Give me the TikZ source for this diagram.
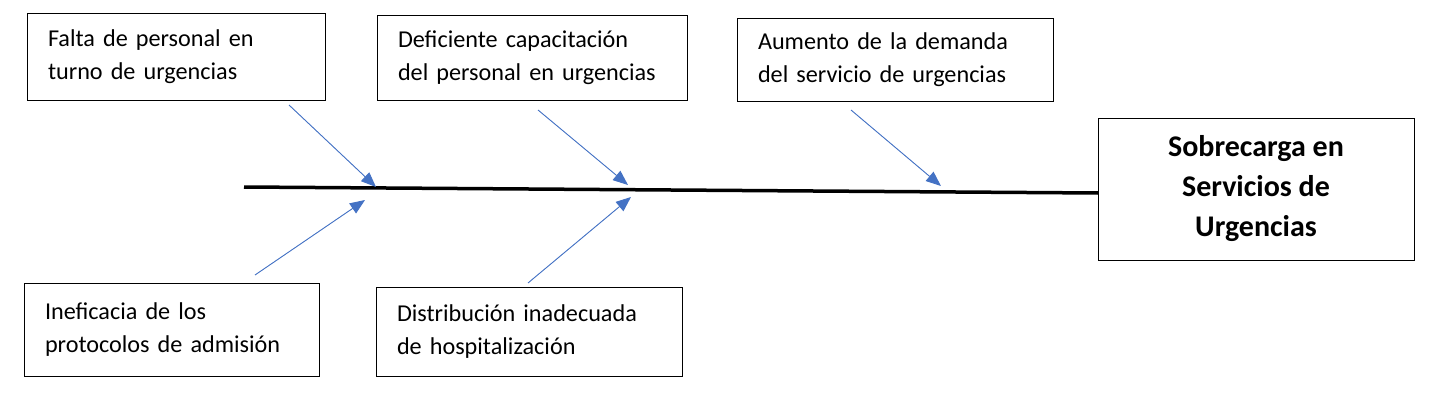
\documentclass[tikz,border=0pt]{standalone}
\usepackage{fontspec}
\setmainfont{Carlito}
\usetikzlibrary{arrows.meta}
\definecolor{arrowblue}{RGB}{68,114,196}
\begin{document}
\begin{tikzpicture}[x=1pt,y=-1pt,
  cause/.style={draw=black,line width=1pt,rectangle,inner xsep=21pt,inner ysep=0pt,
    align=left,font=\fontsize{24.2}{33}\selectfont},
  effect/.style={draw=black,line width=1pt,rectangle,inner sep=0pt,
    align=center,font=\fontsize{30}{40}\selectfont\bfseries},
  bone/.style={draw=arrowblue,line width=0.9pt,-{Triangle[length=15pt,width=12pt]},fill=arrowblue},
  spine/.style={draw=black,line width=3.5pt}]
\useasboundingbox (0,0) rectangle (1446,420);
% boxes
\node[cause,minimum width=298pt,minimum height=86pt,text width=256pt] (c1) at (176,57) {Falta de personal en\\turno de urgencias};
\node[cause,minimum width=310pt,minimum height=84pt,text width=268pt] (c2) at (532,58) {Deficiente capacitación\\del personal en urgencias};
\node[cause,minimum width=316pt,minimum height=82pt,text width=274pt] (c3) at (895,60) {Aumento de la demanda\\del servicio de urgencias};
\node[cause,minimum width=295pt,minimum height=93pt,text width=253pt] (c4) at (171.5,329.5) {Ineficacia de los\\protocolos de admisión};
\node[cause,minimum width=306pt,minimum height=89pt,text width=264pt] (c5) at (529,331.5) {Distribución inadecuada\\de hospitalización};
\node[effect,minimum width=316pt,minimum height=142pt] (e) at (1256,189) {Sobrecarga en\\Servicios de\\Urgencias};
% spine
\coordinate (sL) at (244,187);
\coordinate (sR) at (1098,193);
\draw[spine] (sL) -- (sR);
% bones
\coordinate (a1s) at (289,105); \coordinate (a1e) at (376,187);
\coordinate (a2s) at (538,110); \coordinate (a2e) at (628,185);
\coordinate (a3s) at (851,110); \coordinate (a3e) at (941,186);
\coordinate (a4s) at (255,275); \coordinate (a4e) at (365,200);
\coordinate (a5s) at (528,283); \coordinate (a5e) at (631,197);
\draw[bone] (a1s) -- (a1e);
\draw[bone] (a2s) -- (a2e);
\draw[bone] (a3s) -- (a3e);
\draw[bone] (a4s) -- (a4e);
\draw[bone] (a5s) -- (a5e);
\end{tikzpicture}
\end{document}
